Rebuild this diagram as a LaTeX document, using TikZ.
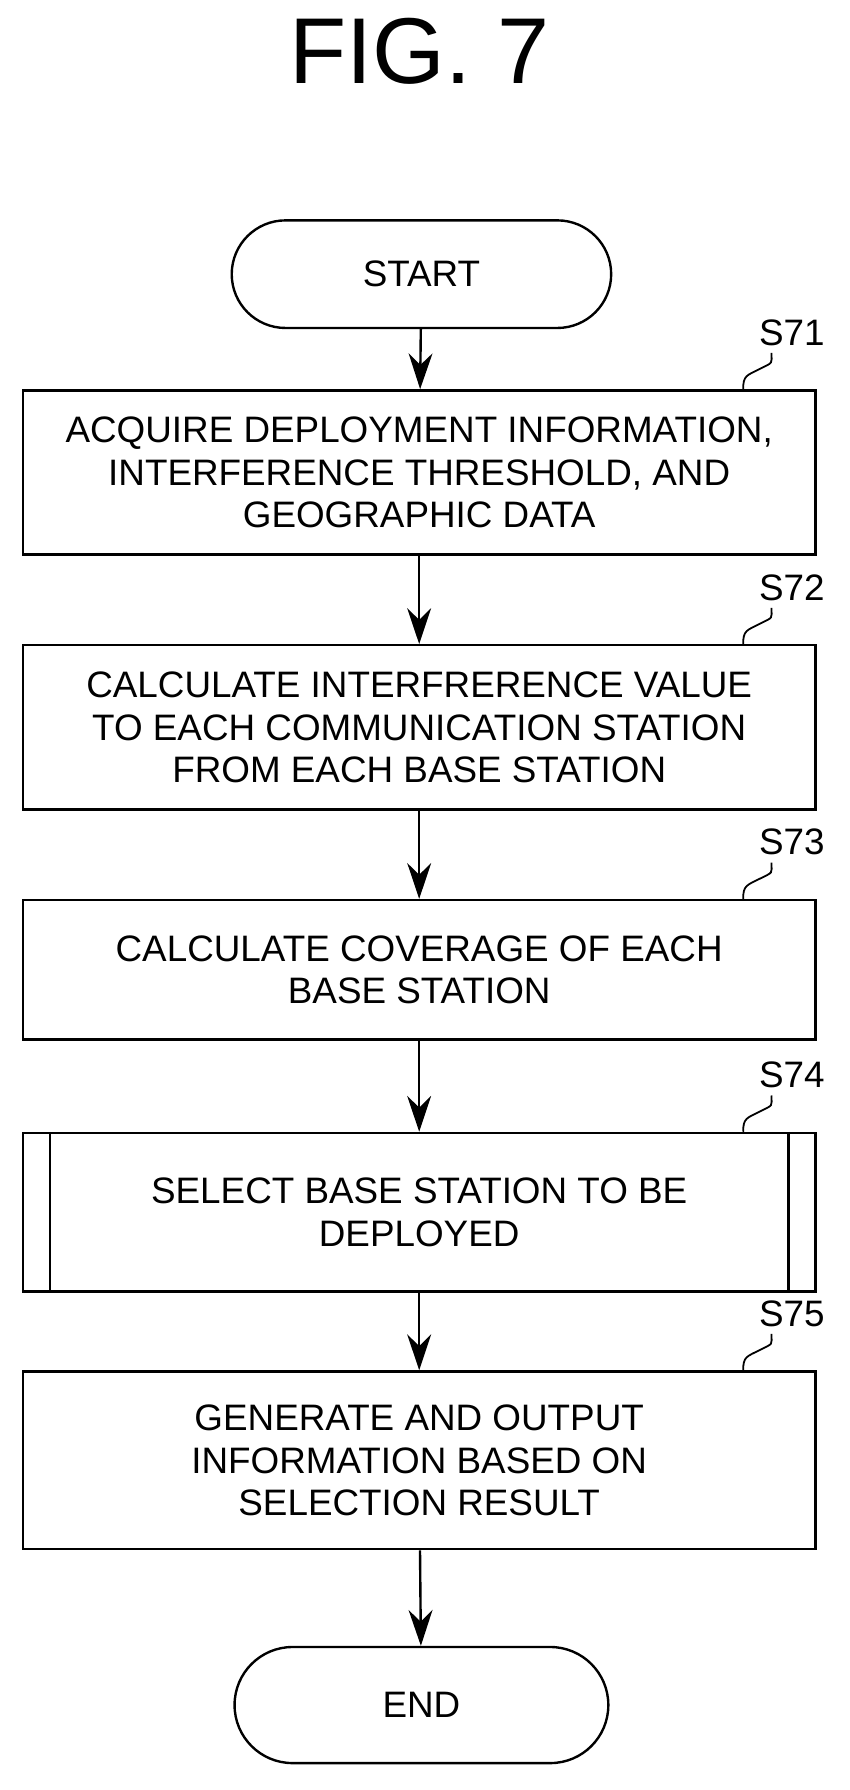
\documentclass[tikz,border=0pt]{standalone}
\usepackage{fontspec}
\setmainfont{Liberation Sans}
\usetikzlibrary{arrows.meta,shapes.misc}
\begin{document}
\begin{tikzpicture}[x=0.02cm,y=-0.02cm,line width=1.2pt,
  txt/.style={font=\fontsize{18.5}{21.5}\selectfont,align=center},
  stepbox/.style={draw,txt,minimum width=14cm,inner sep=0},
  term/.style={draw,txt,rounded rectangle,inner sep=0},
  arr/.style={-{Stealth[length=18pt,width=12pt]}},
  lab/.style={font=\fontsize{18.5}{20}\selectfont}]
\useasboundingbox (0,0) rectangle (750,1580);
\node[font=\fontsize{47}{50}\selectfont] (title) at (370,45) {FIG. 7};
\node[term,minimum width=6.7cm,minimum height=1.9cm] (start) at (372,242) {START};
\node[stepbox,minimum height=2.9cm] (s71) at (370,417) {ACQUIRE DEPLOYMENT INFORMATION,\\INTERFERENCE THRESHOLD, AND\\GEOGRAPHIC DATA};
\node[stepbox,minimum height=2.9cm] (s72) at (370,642) {CALCULATE INTERFRERENCE VALUE\\TO EACH COMMUNICATION STATION\\FROM EACH BASE STATION};
\node[stepbox,minimum height=2.46cm] (s73) at (370,856) {CALCULATE COVERAGE OF EACH\\BASE STATION};
\node[stepbox,minimum height=2.8cm] (s74) at (370,1070) {SELECT BASE STATION TO BE\\DEPLOYED};
\draw (s74.north west) ++(25,0) coordinate (l1) -- (l1 |- s74.south);
\draw (s74.north east) ++(-25,0) coordinate (r1) -- (r1 |- s74.south);
\node[stepbox,minimum height=3.14cm] (s75) at (370,1289) {GENERATE AND OUTPUT\\INFORMATION BASED ON\\SELECTION RESULT};
\node[term,minimum width=6.6cm,minimum height=2.05cm] (endn) at (372,1505) {END};
\foreach \a/\b in {start/s71,s71/s72,s72/s73,s73/s74,s74/s75,s75/endn}
  \draw[arr] (\a) -- (\b);
\foreach \s/\n in {s71/S71,s72/S72,s73/S73,s74/S74,s75/S75}{
  \node[lab] (\s t) at ([shift={(-22,-50)}]\s.north east) {\n};
  \draw[line width=0.9pt] ([shift={(-65,0)}]\s.north east) .. controls +(0,-12) and +(-12,6) .. ([shift={(-50,-18)}]\s.north east) .. controls +(12,-6) and +(0,10) .. ([shift={(-40,-32)}]\s.north east);
}
\end{tikzpicture}
\end{document}
